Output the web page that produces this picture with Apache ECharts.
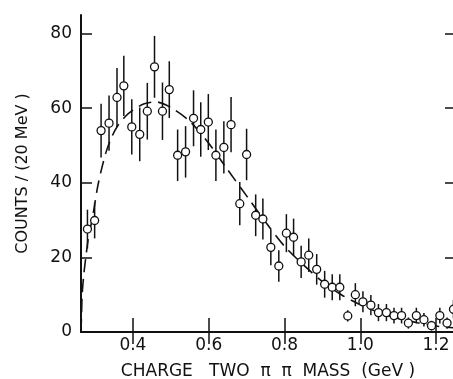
<!DOCTYPE html>
<html lang="en">
<head>
    <meta charset="UTF-8">
    <title>pipi mass</title>
    <script src="https://cdn.jsdelivr.net/npm/echarts@6/dist/echarts.min.js"></script>
    <style>
        body{margin:0;background:#fff;}
        #main{width:453px;height:379px;}
    </style>
</head>
<body>
<div id="main"></div>
<script type="text/javascript">
// data points (GeV, counts per 20 MeV, error)
var masses = [0.280, 0.299, 0.316, 0.337, 0.358, 0.376, 0.397, 0.418, 0.438, 0.457,
              0.478, 0.496, 0.518, 0.539, 0.560, 0.579, 0.599, 0.619, 0.640, 0.659,
              0.682, 0.700, 0.724, 0.743, 0.764, 0.785, 0.805, 0.824, 0.844, 0.864,
              0.885, 0.906, 0.926, 0.946, 0.967, 0.987, 1.007, 1.028, 1.048, 1.069,
              1.089, 1.109, 1.127, 1.148, 1.168, 1.188, 1.210, 1.229, 1.246];
var counts = [27.6, 29.9, 54, 56, 62.9, 66, 55, 53, 59.2, 71.1,
              59.2, 65, 47.4, 48.3, 57.3, 54.3, 56.3, 47.4, 49.5, 55.6,
              34.4, 47.6, 31.3, 30.3, 22.7, 17.7, 26.5, 25.4, 18.8, 20.6,
              16.8, 12.8, 12, 12, 4.3, 10, 8.1, 7.2, 5.2, 5.2,
              4.4, 4.4, 2.4, 4.4, 3.3, 1.7, 4.4, 2.4, 6.1];
var errors = [5.2, 4.8, 7.2, 7.4, 7.9, 8.1, 7.4, 7.2, 7.6, 8.3,
              7.7, 7.6, 6.9, 6.9, 7.5, 7.3, 7.5, 6.9, 7.0, 7.4,
              5.8, 6.9, 5.6, 5.5, 4.8, 4.2, 5.1, 5.0, 4.3, 4.5,
              4.1, 3.6, 3.5, 3.5, 1.5, 3.1, 2.8, 2.7, 2.3, 2.3,
              2.1, 2.1, 1.5, 2.1, 1.8, 1.3, 2.1, 1.5, 2.5];

// dashed fit curve
var curveMass = [0.263, 0.2645, 0.266, 0.270, 0.275, 0.283, 0.291, 0.298, 0.307, 0.318,
                 0.330, 0.345, 0.360, 0.380, 0.400, 0.430, 0.460, 0.500, 0.550, 0.600,
                 0.650, 0.700, 0.750, 0.800, 0.850, 0.900, 0.950, 1.000, 1.050, 1.100,
                 1.150, 1.200, 1.250];
var curveCounts = [0, 5, 10, 15, 19.5, 25.5, 29.5, 33.5, 39, 44,
                   48.5, 52.5, 55.3, 57.8, 59.5, 61.2, 61.7, 60.2, 56.5, 50.6,
                   43.5, 36.5, 29.5, 23, 18, 13.5, 10, 7.3, 5.2, 3.6,
                   2.5, 1.6, 1.1];

var xTicks = [0.4, 0.6, 0.8, 1.0, 1.2];
var yTicks = [0, 20, 40, 60, 80];

var black = '#111';
var font = 'DejaVu Sans';

var myChart = echarts.init(document.getElementById('main'));

myChart.setOption({
    animation: false,
    grid: {left: 81, top: 15, right: -2, bottom: 47, outerBoundsMode: 'none'},
    xAxis: [
        {
            type: 'value', position: 'bottom', min: 0.263, max: 1.25,
            name: 'CHARGE   TWO  π  π  MASS  (GeV )',
            nameLocation: 'middle', nameGap: 31,
            nameTextStyle: {color: black, fontFamily: font, fontSize: 17},
            axisLine: {lineStyle: {color: black, width: 2}},
            axisTick: {inside: true, length: 14, customValues: xTicks, lineStyle: {color: black, width: 1.5}},
            axisLabel: {customValues: xTicks, margin: 5, color: black, fontFamily: font, fontSize: 17,
                formatter: function (v) { return v.toFixed(1); }},
            splitLine: {show: false}
        },
        {
            type: 'value', position: 'top', min: 0.263, max: 1.25,
            axisLine: {lineStyle: {color: black, width: 2}},
            axisTick: {inside: true, length: 12, customValues: xTicks, lineStyle: {color: black, width: 1.5}},
            axisLabel: {show: false},
            splitLine: {show: false}
        }
    ],
    yAxis: [
        {
            type: 'value', position: 'left', min: 0, max: 85,
            name: 'COUNTS / (20 MeV )',
            nameLocation: 'middle', nameGap: 50,
            nameTextStyle: {color: black, fontFamily: font, fontSize: 16},
            axisLine: {show: true, lineStyle: {color: black, width: 2}},
            axisTick: {show: true, inside: true, length: 11, customValues: yTicks, lineStyle: {color: black, width: 1.5}},
            axisLabel: {customValues: yTicks, margin: 9, color: black, fontFamily: font, fontSize: 17},
            splitLine: {show: false}
        },
        {
            type: 'value', position: 'right', min: 0, max: 85,
            axisLine: {show: false},
            axisTick: {show: true, inside: true, length: 10, customValues: yTicks, lineStyle: {color: black, width: 1.5}},
            axisLabel: {show: false},
            splitLine: {show: false}
        }
    ],
    series: [
        {
            type: 'line',
            data: curveMass.map(function (m, i) { return [m, curveCounts[i]]; }),
            showSymbol: false,
            smooth: 0.3,
            lineStyle: {color: black, width: 1.6, type: [13, 7]},
            z: 1
        },
        {
            type: 'custom',
            data: masses.map(function (m, i) { return [m, counts[i], errors[i]]; }),
            renderItem: function (params, api) {
                var x = api.value(0), y = api.value(1), e = api.value(2);
                var top = api.coord([x, y + e]);
                var bot = api.coord([x, Math.max(0, y - e)]);
                return {
                    type: 'line',
                    shape: {x1: top[0], y1: top[1], x2: bot[0], y2: bot[1]},
                    style: {stroke: black, lineWidth: 1.5}
                };
            },
            z: 2
        },
        {
            type: 'scatter',
            data: masses.map(function (m, i) { return [m, counts[i]]; }),
            symbol: 'circle',
            symbolSize: 8,
            itemStyle: {color: '#fff', borderColor: black, borderWidth: 1.3, opacity: 1},
            z: 3
        }
    ]
});
</script>
</body>
</html>
